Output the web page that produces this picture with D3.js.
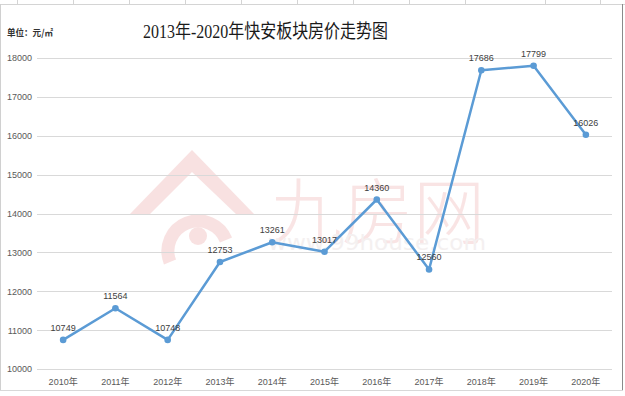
<!DOCTYPE html>
<html><head><meta charset="utf-8">
<script src="https://cdn.jsdelivr.net/npm/d3@7"></script>
<style>body{margin:0;background:#fff}svg{display:block}</style>
</head><body>
<svg id="c" width="625" height="396"></svg>
<script>
const categories = ["2010年","2011年","2012年","2013年","2014年","2015年","2016年","2017年","2018年","2019年","2020年"];
const prices = [10749,11564,10748,12753,13261,13017,14360,12560,17686,17799,16026];
const yTicks = [10000,11000,12000,13000,14000,15000,16000,17000,18000];
const title = "2013年-2020年快安板块房价走势图";
const unitLabel = "单位：元/㎡";

const svg = d3.select("#c");
const W = 625, H = 396;
const m = {left:37, right:13, top:58, bottom:27};
const x = d3.scaleBand().domain(categories).range([m.left, W - m.right]);
const y = d3.scaleLinear().domain([10000,18000]).range([H - m.bottom, m.top]);

// frame (spreadsheet cells)
svg.append("rect").attr("x",0).attr("y",0).attr("width",W).attr("height",H).attr("fill","#fff");
svg.append("line").attr("x1",0).attr("x2",W).attr("y1",4.5).attr("y2",4.5).attr("stroke","#d4d4d4");
[17,73,129,185,241,297,353,409,465,545,600].forEach(v=>{
  svg.append("line").attr("x1",v+0.5).attr("x2",v+0.5).attr("y1",0).attr("y2",4.5).attr("stroke","#d4d4d4");
});
svg.append("line").attr("x1",0.5).attr("x2",0.5).attr("y1",4).attr("y2",390).attr("stroke","#d0d0d0");
svg.append("line").attr("x1",622.5).attr("x2",622.5).attr("y1",4).attr("y2",390).attr("stroke","#8a8a8a");
svg.append("line").attr("x1",0).attr("x2",623).attr("y1",390.5).attr("y2",390.5).attr("stroke","#d8d8d8");

// watermark
const wm = svg.append("g").attr("opacity",0.5);
wm.append("path").attr("d","M130,214 L192,150 L254,214 L236,214 L192,172 L150,214 Z").attr("fill","#f3c4c4");
wm.append("path").attr("d","M170,262 A30,30 0 1,1 226,240").attr("fill","none").attr("stroke","#f3c4c4").attr("stroke-width",13);
wm.append("circle").attr("cx",198).attr("cy",236).attr("r",9).attr("fill","#f3c4c4");
wm.append("text").attr("x",270).attr("y",238).attr("font-family","Noto Sans CJK SC").attr("font-weight",300)
  .attr("font-size",72).attr("textLength",215).attr("lengthAdjust","spacingAndGlyphs")
  .attr("fill","#f5caca").text("九房网");
wm.append("text").attr("x",268).attr("y",250).attr("font-family","DejaVu Sans").attr("font-size",22)
  .attr("textLength",218).attr("lengthAdjust","spacingAndGlyphs")
  .attr("fill","#ebe3e3").text("www.99house.com");

// gridlines
svg.append("g").selectAll("line").data(yTicks).join("line")
  .attr("x1",m.left).attr("x2",W - m.right)
  .attr("y1",d=>Math.round(y(d))+0.5).attr("y2",d=>Math.round(y(d))+0.5)
  .attr("stroke","#d9d9d9").attr("stroke-width",1);

// y axis
const yAxis = svg.append("g").attr("transform",`translate(${m.left-5},0)`)
  .call(d3.axisLeft(y).tickValues(yTicks).tickSize(0).tickPadding(0).tickFormat(d3.format("d")));
yAxis.select(".domain").remove();
yAxis.selectAll("text").attr("font-family","Liberation Sans, Noto Sans CJK SC").attr("font-size",9).attr("fill","#595959");

// x axis
const xAxis = svg.append("g").attr("transform",`translate(0,${H - m.bottom})`)
  .call(d3.axisBottom(x).tickSize(0).tickPadding(10));
xAxis.select(".domain").remove();
xAxis.selectAll("text").attr("font-family","Liberation Sans, Noto Sans CJK SC").attr("font-size",9).attr("fill","#595959");

// line
const cx = d => x(d) + x.bandwidth()/2;
const pts = categories.map((c,i)=>({c, v:prices[i]}));
svg.append("path").datum(pts)
  .attr("d", d3.line().x(d=>cx(d.c)).y(d=>y(d.v)))
  .attr("fill","none").attr("stroke","#5b9bd5").attr("stroke-width",2.5).attr("stroke-linejoin","round");
svg.append("g").selectAll("circle").data(pts).join("circle")
  .attr("cx",d=>cx(d.c)).attr("cy",d=>y(d.v)).attr("r",3.3).attr("fill","#5b9bd5");
svg.append("g").selectAll("text").data(pts).join("text")
  .attr("x",d=>cx(d.c)).attr("y",d=>y(d.v)-9).attr("text-anchor","middle")
  .attr("font-family","Liberation Sans, Noto Sans CJK SC").attr("font-size",9).attr("fill","#404040")
  .text(d=>d.v);

// titles
svg.append("text").attr("x",143).attr("y",38)
  .attr("font-family","Liberation Serif, Noto Sans CJK SC").attr("font-size",19)
  .attr("textLength",245).attr("lengthAdjust","spacingAndGlyphs")
  .attr("fill","#1a1a1a").text(title);
svg.append("text").attr("x",7).attr("y",36)
  .attr("font-family","Noto Sans CJK SC").attr("font-size",9.5).attr("font-weight","bold")
  .attr("textLength",46).attr("lengthAdjust","spacingAndGlyphs")
  .attr("fill","#333").text(unitLabel);
</script>
</body></html>
